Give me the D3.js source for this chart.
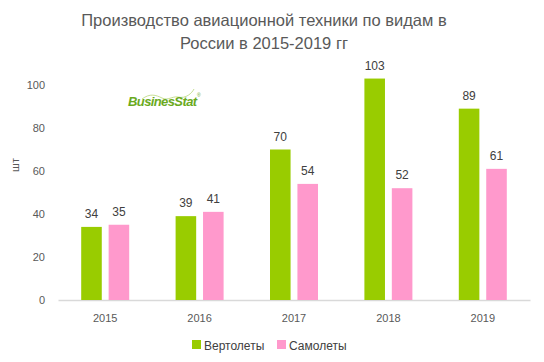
<!DOCTYPE html>
<meta charset="utf-8">
<style>
  body { margin: 0; background: #fff; }
  text { font-family: "Liberation Sans", "DejaVu Sans", sans-serif; }
</style>
<svg id="chart" width="544" height="362"></svg>
<script src="https://cdn.jsdelivr.net/npm/d3@7"></script>
<script>

// data
var years = ["2015", "2016", "2017", "2018", "2019"]
var seriesNames = ["Вертолеты", "Самолеты"]
var helicopters = [34, 39, 70, 103, 89]
var planes = [35, 41, 54, 52, 61]
var yTicks = [0, 20, 40, 60, 80, 100]
var colors = ["#99cc00", "#ff99cc"]

var svg = d3.select("#chart")
var margin = { top: 85, right: 14, bottom: 62, left: 58 }
var width = 544 - margin.left - margin.right
var height = 362 - margin.top - margin.bottom

var rows = years.map(function (y, i) {
  return { year: y, values: [helicopters[i], planes[i]] }
})

// title
svg.append("text")
  .attr("x", 264).attr("y", 26)
  .attr("text-anchor", "middle")
  .style("font-size", "16.5px").style("fill", "#595959")
  .text("Производство авиационной техники по видам в")
svg.append("text")
  .attr("x", 264).attr("y", 49)
  .attr("text-anchor", "middle")
  .style("font-size", "16.5px").style("fill", "#595959")
  .text("России в 2015-2019 гг")

var g = svg.append("g").attr("transform", "translate(" + margin.left + "," + margin.top + ")")

var x0 = d3.scaleBand().domain(years).range([0, width])
var x1 = d3.scaleBand().domain(seriesNames)
  .range([x0.bandwidth() / 2 - 24, x0.bandwidth() / 2 + 24])
  .paddingInner(0.25)
var y = d3.scaleLinear().domain([0, 100]).range([height, 0])

// y axis labels (no line)
var yAxis = g.append("g")
  .call(d3.axisLeft(y).tickValues(yTicks).tickSize(0).tickPadding(13))
yAxis.select(".domain").remove()
yAxis.selectAll("text")
  .style("font-size", "11px").style("fill", "#595959")
  .style("font-family", "Liberation Sans, sans-serif")

// x axis
var xAxis = g.append("g")
  .attr("transform", "translate(0," + height + ")")
  .call(d3.axisBottom(x0).tickSize(0).tickPadding(14))
xAxis.select(".domain").attr("stroke", "#d9d9d9").attr("stroke-width", 1.5)
xAxis.selectAll("text")
  .style("font-size", "11px").style("fill", "#595959")
  .style("font-family", "Liberation Sans, sans-serif")

// unit label
svg.append("text")
  .attr("transform", "translate(19," + 165 + ") rotate(-90)")
  .attr("text-anchor", "middle")
  .style("font-size", "11px").style("fill", "#595959")
  .text("шт")

// bars
var groups = g.selectAll(".year")
  .data(rows)
  .enter().append("g")
  .attr("transform", function (d) { return "translate(" + x0(d.year) + ",0)" })

groups.selectAll("rect")
  .data(function (d) { return d.values.map(function (v, i) { return { name: seriesNames[i], value: v, i: i } }) })
  .enter().append("rect")
  .attr("x", function (d) { return x1(d.name) })
  .attr("y", function (d) { return y(d.value) })
  .attr("width", x1.bandwidth())
  .attr("height", function (d) { return height - y(d.value) })
  .attr("fill", function (d) { return colors[d.i] })

groups.selectAll(".val")
  .data(function (d) { return d.values.map(function (v, i) { return { name: seriesNames[i], value: v } }) })
  .enter().append("text")
  .attr("class", "val")
  .attr("x", function (d) { return x1(d.name) + x1.bandwidth() / 2 })
  .attr("y", function (d) { return y(d.value) - 9 })
  .attr("text-anchor", "middle")
  .style("font-size", "12px").style("fill", "#404040")
  .text(function (d) { return d.value })

// legend
var legend = svg.append("g").attr("transform", "translate(192,340)")
var legendX = [0, 85]
seriesNames.forEach(function (name, i) {
  legend.append("rect")
    .attr("x", legendX[i]).attr("y", 0)
    .attr("width", 9).attr("height", 9)
    .attr("fill", colors[i])
  legend.append("text")
    .attr("x", legendX[i] + 12).attr("y", 9.5)
    .style("font-size", "12px").style("fill", "#404040")
    .text(name)
})

// logo
var logo = svg.append("g").attr("transform", "translate(128,106)")
logo.append("path")
  .attr("d", "M14,-7 C22,-13 28,-11 34,-8 C40,-5 44,-10 50,-9 C58,-7 64,-13 66,-17")
  .attr("fill", "none").attr("stroke", "#b7d77a").attr("stroke-width", 0.8)
logo.append("text")
  .attr("x", 0).attr("y", 0)
  .style("font-size", "13px").style("font-weight", "bold").style("font-style", "italic")
  .style("fill", "#6aaa1e").style("letter-spacing", "-0.6px")
  .text("BusinesStat")
logo.append("text")
  .attr("x", 69).attr("y", -9)
  .style("font-size", "5px").style("fill", "#6aaa1e")
  .text("®")

</script>
